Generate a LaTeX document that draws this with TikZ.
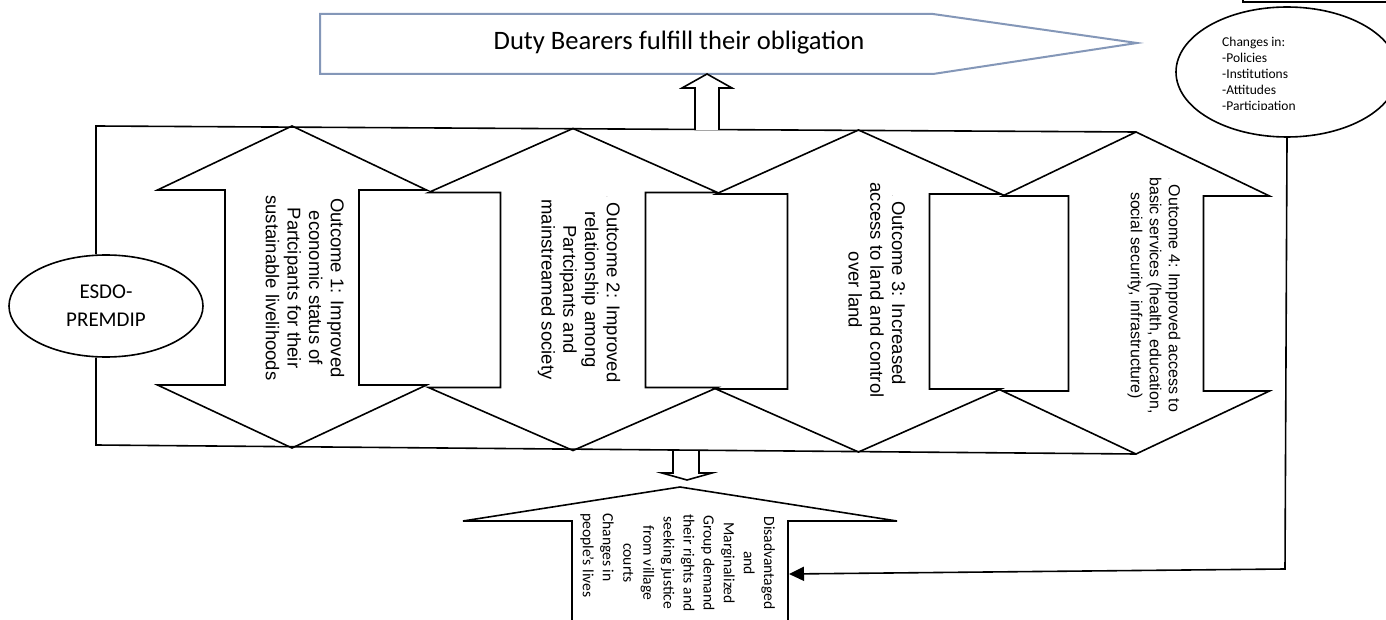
\documentclass[tikz,border=0pt]{standalone}
\usepackage{fontspec}
\setmainfont{Carlito}
\newfontfamily\arialfont{Liberation Sans}
\usepackage{xcolor}
\usetikzlibrary{arrows.meta,shapes.geometric}
\definecolor{bannerblue}{RGB}{132,151,184}
\newcommand{\tinydot}{{\fontsize{4}{4}\selectfont.}\hspace{5pt}}

\begin{document}
\begin{tikzpicture}[
    x=1pt, y=-1pt,
    frame/.style={draw=black, line width=1.6pt},
    blockarrow/.style={draw=black, line width=1.6pt, fill=white, line join=miter},
    banner/.style={draw=bannerblue, line width=2pt, fill=white},
    oval/.style={ellipse, draw=black, line width=1.6pt, fill=white, inner sep=0pt},
    outtext/.style={rotate=-90, align=center, inner sep=0pt, font=\arialfont\fontsize{18.5}{21.7}\selectfont},
    lowtext/.style={rotate=-90, inner sep=0pt, font=\fontsize{15.6}{20.1}\selectfont},
    link/.style={-{Triangle[length=15pt,width=14pt]}, line width=1.6pt}
]
    \useasboundingbox (0,0) rectangle (1386,620);
    \fill[white] (0,0) rectangle (1386,620);
    \clip (0,0) rectangle (1386,620);

    % top banner
    \draw[banner] (320,14) -- (933,14) -- (1137,43) -- (933,74) -- (320,74) -- cycle;
    \node[font=\fontsize{26.6}{32}\selectfont] (duty) at (679,43) {Duty Bearers fulfill their obligation};
    \draw[black, line width=1.6pt] (1243,-10) rectangle (1400,2);

    % outcome arrows
    \foreach \n/\cx/\dy/\hw/\sw in {1/292/0/134.5/67, 2/573/2.5/144.5/72.5, 3/858.5/4/142.5/71, 4/1136/6/133.5/67.5}{
        \draw[blockarrow] (\cx,126+\dy) -- (\cx+\hw,190+\dy) -- (\cx+\sw,190+\dy) -- (\cx+\sw,385+\dy)
            -- (\cx+\hw,385+\dy) -- (\cx,448+\dy) -- (\cx-\hw,385+\dy) -- (\cx-\sw,385+\dy)
            -- (\cx-\sw,190+\dy) -- (\cx-\hw,190+\dy) -- cycle;
        \coordinate (top\n) at (\cx,126+\dy);
        \coordinate (bot\n) at (\cx,448+\dy);
    }
    \node[outtext] (out1) at (305,288) {Outcome 1: Improved\\economic status of\\Partcipants for their\\sustainable livelihoods};
    \node[outtext] (out2) at (579,289.5) {\tinydot Outcome 2: Improved\\relationship among\\Partcipants and\\mainstreamed society};
    \node[outtext] (out3) at (877,290) {\tinydot Outcome 3: Increased\\access to land and control\\over land};
    \node[outtext, font=\arialfont\fontsize{16}{19}\selectfont] (out4) at (1154,295.5) {\tinydot Outcome 4: Improved access to\\basic services (health, education,\\social security, infrastructure)};

    % frame with ESDO-PREMDIP
    \node[oval, minimum width=194pt, minimum height=102pt, align=center, font=\fontsize{21}{28}\selectfont] (esdo) at (106,306) {ESDO-\\PREMDIP};
    \coordinate (ftl) at (96,126);
    \coordinate (fbl) at (96,445);
    \draw[frame] (top4) -- (ftl) -- (ftl |- esdo.north);
    \draw[frame] (fbl |- esdo.south) -- (fbl) -- (bot4);

    % small arrows up and down
    \draw[blockarrow] (695,130) -- (695,88) -- (682,88) -- (707,74) -- (732,88) -- (719,88) -- (719,130);
    \draw[blockarrow] (673,451) -- (673,473) -- (662,473) -- (687,480) -- (712,473) -- (699,473) -- (699,451);

    % bottom arrow
    \draw[blockarrow] (572,640) -- (572,521) -- (463,521) -- (680,487) -- (897,521) -- (788,521) -- (788,640);
    \node[lowtext, align=center] (claim) at (699,563) {Disadvantaged\\and\\Marginalized\\Group demand\\their rights and\\seeking justice\\from village\\courts};
    \node[lowtext, align=left, anchor=west] (lives) at (597,513) {Changes in\\people’s lives};

    % changes ellipse
    \node[oval, minimum width=222pt, minimum height=130pt] (changes) at (1287,72) {};
    \begin{scope}
        \clip (1190,30) rectangle (1385,110);
        \node[anchor=north west, align=left, inner sep=0pt, font=\fontsize{13.5}{16}\selectfont] (changelist) at (1222,37) {Changes in:\\-Policies\\-Institutions\\-Attitudes\\-Participation};
    \end{scope}
    \coordinate (bend) at (1285,569);
    \coordinate (target) at (789,574);
    \draw[link] (changes.south) -- (bend) -- (target);
\end{tikzpicture}
\end{document}
